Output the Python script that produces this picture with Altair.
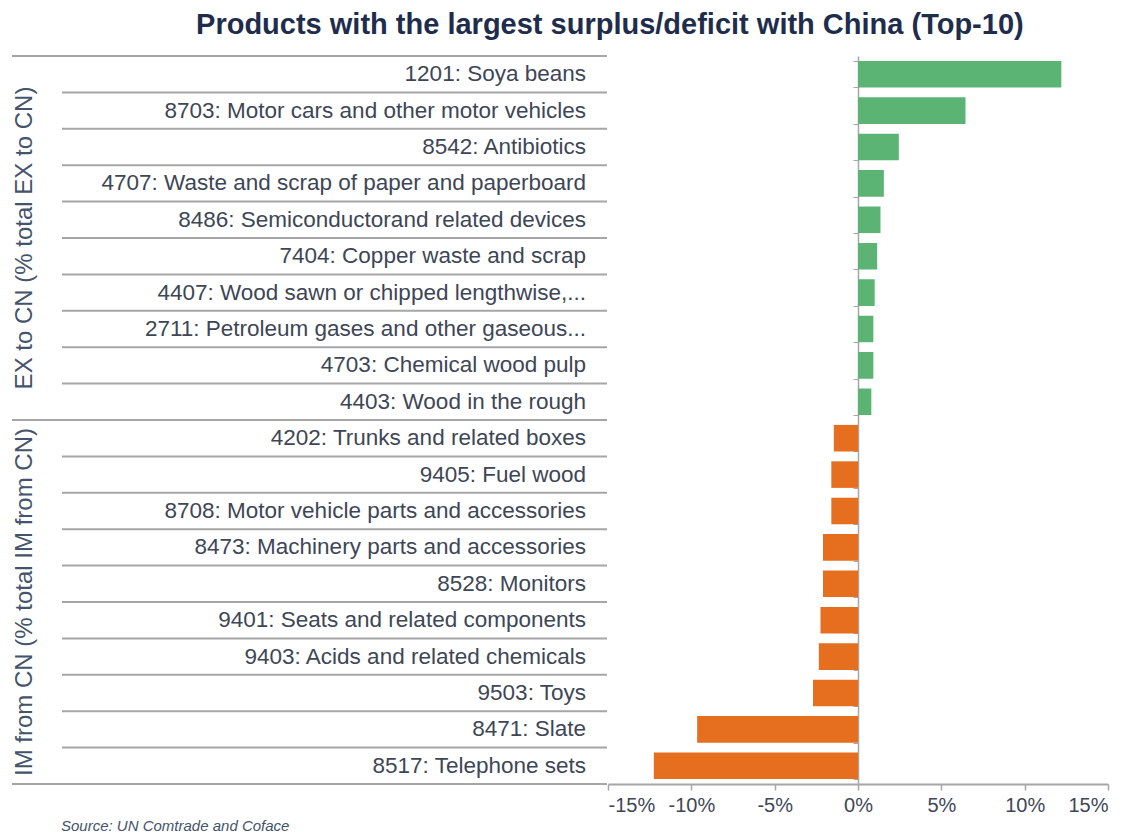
import altair as alt
import pandas as pd

labels = [
    "1201: Soya beans",
    "8703: Motor cars and other motor vehicles",
    "8542: Antibiotics",
    "4707: Waste and scrap of paper and paperboard",
    "8486: Semiconductorand related devices",
    "7404: Copper waste and scrap",
    "4407: Wood sawn or chipped lengthwise,...",
    "2711: Petroleum gases and other gaseous...",
    "4703: Chemical wood pulp",
    "4403: Wood in the rough",
    "4202: Trunks and related boxes",
    "9405: Fuel wood",
    "8708: Motor vehicle parts and accessories",
    "8473: Machinery parts and accessories",
    "8528: Monitors",
    "9401: Seats and related components",
    "9403: Acids and related chemicals",
    "9503: Toys",
    "8471: Slate",
    "8517: Telephone sets",
]
values = [12.2, 6.45, 2.45, 1.55, 1.35, 1.15, 1.0, 0.92, 0.92, 0.8,
          -1.45, -1.6, -1.6, -2.1, -2.1, -2.25, -2.35, -2.7, -9.65, -12.25]
groups = ["EX", "EX", "EX", "EX", "EX", "EX", "EX", "EX", "EX", "EX",
          "IM", "IM", "IM", "IM", "IM", "IM", "IM", "IM", "IM", "IM"]
group_titles = ["EX to CN (% total EX to CN)", "IM from CN (% total IM from CN)"]
group_anchor = [labels[5], labels[15]]
group_first = [labels[0], labels[10]]
x_ticks = [-15, -10, -5, 0, 5, 10, 15]
source = "Source: UN Comtrade and Coface"

df = pd.DataFrame({"label": labels, "value": values, "group": groups})
gdf = pd.DataFrame({"label": group_anchor, "title": group_titles})

H = 728
WL = 595
WR = 500
LABEL_FONT = "Liberation Sans, Arial, sans-serif"
TXT = "#3e4656"
GRID = "#a6a6a6"


def yband(pos):
    return alt.Y("label:N", sort=labels, axis=None, bandPosition=pos,
                 scale=alt.Scale(paddingInner=0, paddingOuter=0))


base_left = alt.Chart(df)

text_layer = base_left.mark_text(align="right", baseline="middle", fontSize=22.5,
                                 font=LABEL_FONT, color=TXT).encode(
    y=yband(0.5), x=alt.value(WL - 21), text="label:N")

inner_rules = base_left.mark_rule(color=GRID, strokeWidth=2).transform_filter(
    ~alt.FieldOneOfPredicate(field="label", oneOf=group_first)
).encode(y=yband(0), x=alt.value(50), x2=alt.value(WL))

group_rules = base_left.mark_rule(color=GRID, strokeWidth=2).transform_filter(
    alt.FieldOneOfPredicate(field="label", oneOf=group_first)
).encode(y=yband(0), x=alt.value(0), x2=alt.value(WL))

bottom_rule = base_left.mark_rule(color=GRID, strokeWidth=2).transform_filter(
    alt.FieldEqualPredicate(field="label", equal=labels[-1])
).encode(y=yband(1), x=alt.value(0), x2=alt.value(WL))

group_text = alt.Chart(gdf).mark_text(angle=270, align="center", baseline="middle",
                                      fontSize=24, font=LABEL_FONT,
                                      color="#44546a").encode(
    y=yband(0), x=alt.value(13), text="title:N")

source_text = alt.Chart(pd.DataFrame({"t": [source]})).mark_text(
    align="left", baseline="middle", fontSize=15, fontStyle="italic",
    font=LABEL_FONT, color="#44546a").encode(
    x=alt.value(49), y=alt.value(H + 42), text="t:N")

left = alt.layer(inner_rules, group_rules, bottom_rule, text_layer, group_text,
                 source_text).properties(width=WL, height=H)

bars = alt.Chart(df).mark_bar().encode(
    x=alt.X("value:Q", scale=alt.Scale(domain=[-15, 15], nice=False),
            axis=alt.Axis(values=x_ticks, labelExpr="datum.value + '%'",
                          title=None, grid=False, domainColor=GRID,
                          domainWidth=2, tickColor=GRID, tickSize=6,
                          tickWidth=1.5, labelFontSize=20, labelFont=LABEL_FONT,
                          labelColor=TXT, labelPadding=5)),
    y=alt.Y("label:N", sort=labels,
            scale=alt.Scale(paddingInner=0.27, paddingOuter=0.135),
            axis=alt.Axis(labels=False, title=None, offset=-WR / 2,
                          tickBand="extent", domainColor=GRID, domainWidth=1.5,
                          tickColor=GRID, tickSize=5)),
    color=alt.Color("group:N", legend=None,
                    scale=alt.Scale(domain=["EX", "IM"],
                                    range=["#5bb374", "#e56f1f"])),
).properties(width=WR, height=H)

chart = alt.hconcat(left, bars, spacing=1, bounds="flush").properties(
    title=alt.TitleParams(
        "Products with the largest surplus/deficit with China (Top-10)",
        font="Liberation Sans Narrow, Arial Narrow, sans-serif",
        fontSize=29, fontWeight="bold", color="#1f2d4d",
        anchor="middle", dx=50, offset=15),
    padding={"left": 3, "top": 3, "right": 5, "bottom": 5},
).configure_view(stroke=None)

chart.save("out.html", embed_options={"renderer": "svg", "actions": False})
